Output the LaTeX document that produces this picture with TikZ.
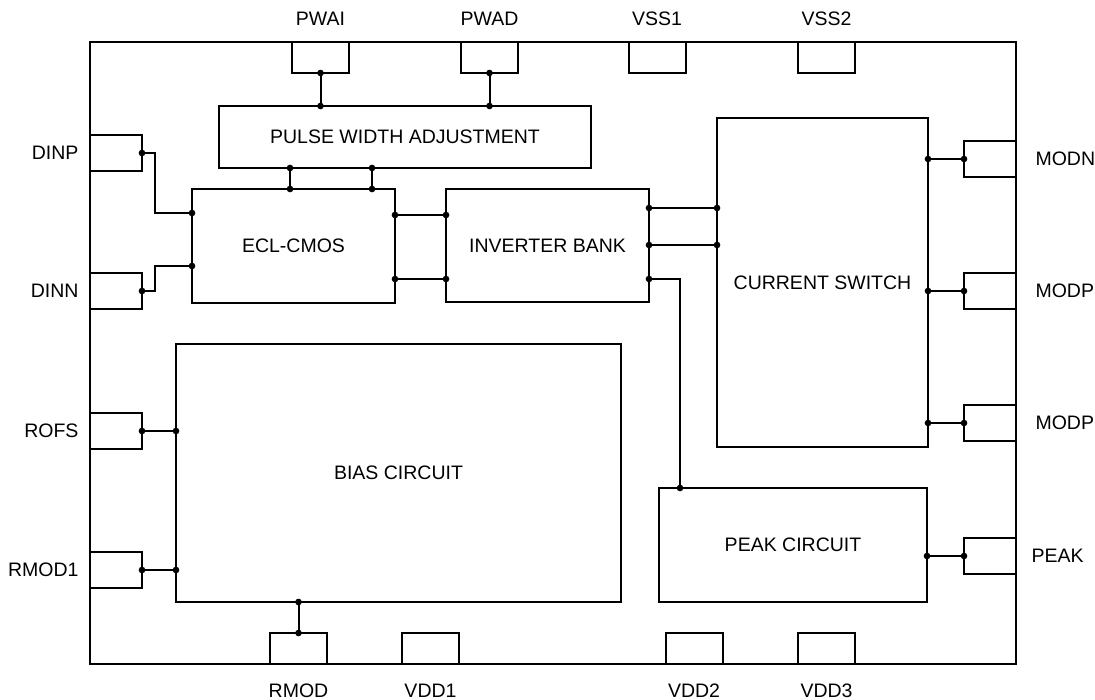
\documentclass[tikz,border=0pt]{standalone}
\usepackage{fontspec}
\setmainfont{Liberation Sans}
\usetikzlibrary{arrows.meta,positioning,calc}

\begin{document}
\begin{tikzpicture}[
  x=1pt, y=-1pt,
  line width=2pt,
  blk/.style={
    rectangle, draw, outer sep=0pt, inner sep=0pt,
    font=\fontsize{19.5}{23}\selectfont,
    align=center
  },
  padh/.style={rectangle, draw, outer sep=0pt, minimum width=57pt, minimum height=31pt},
  padv/.style={rectangle, draw, outer sep=0pt, minimum width=52pt, minimum height=36pt},
  pin/.style={font=\fontsize{19.5}{23}\selectfont, inner sep=0pt},
  conn/.style={{Circle[length=6.5pt]}-{Circle[length=6.5pt]}, shorten <=-3.25pt, shorten >=-3.25pt}
]
\useasboundingbox (0,0) rectangle (1095,700);

\node[draw, outer sep=0pt, minimum width=926pt, minimum height=622pt] (chip) at (553,353) {};

\node[blk, minimum width=372pt, minimum height=62pt]  (pwa)  at (405,137)     {PULSE WIDTH ADJUSTMENT};
\node[blk, minimum width=203pt, minimum height=114pt] (ecl)  at (293.5,246)   {ECL-CMOS};
\node[blk, minimum width=203pt, minimum height=113pt] (inv)  at (547.5,245.5) {INVERTER BANK};
\node[blk, minimum width=211pt, minimum height=329pt] (cs)   at (822.5,282.5) {CURRENT SWITCH};
\node[blk, minimum width=445pt, minimum height=258pt] (bias) at (398.5,473)   {BIAS CIRCUIT};
\node[blk, minimum width=268pt, minimum height=114pt] (peak) at (793,545)     {PEAK CIRCUIT};

\node[padh] (pwai) at (320.5,57.5) {};
\node[padh] (pwad) at (489.5,57.5) {};
\node[padh] (vss1) at (657,57.5)   {};
\node[padh] (vss2) at (826.5,57.5) {};
\node[padh] (rmod) at (298.5,648.5) {};
\node[padh] (vdd1) at (430.5,648.5) {};
\node[padh] (vdd2) at (694,648.5)   {};
\node[padh] (vdd3) at (826.5,648.5) {};
\node[padv] (dinp)  at (116,153) {};
\node[padv] (dinn)  at (116,291) {};
\node[padv] (rofs)  at (116,431) {};
\node[padv] (rmodi) at (116,570) {};
\node[padv] (modn)  at (990,159) {};
\node[padv] (modpa) at (990,291) {};
\node[padv] (modpb) at (990,423) {};
\node[padv] (peakp) at (990,556) {};

\node[pin, above=15pt of pwai] (pwai-l) {PWAI};
\node[pin, above=15pt of pwad] (pwad-l) {PWAD};
\node[pin, above=15pt of vss1] (vss1-l) {VSS1};
\node[pin, above=15pt of vss2] (vss2-l) {VSS2};
\node[pin, below=19pt of rmod] (rmod-l) {RMOD};
\node[pin, below=19pt of vdd1] (vdd1-l) {VDD1};
\node[pin, below=19pt of vdd2] (vdd2-l) {VDD2};
\node[pin, below=19pt of vdd3] (vdd3-l) {VDD3};
\node[pin, left=10.5pt of dinp]  (dinp-l)  {DINP};
\node[pin, left=10.5pt of dinn]  (dinn-l)  {DINN};
\node[pin, left=10.5pt of rofs]  (rofs-l)  {ROFS};
\node[pin, left=10.5pt of rmodi] (rmodi-l) {RMOD1};
\node[pin, right=18.5pt of modn]  (modn-l)  {MODN};
\node[pin, right=18.5pt of modpa] (modpa-l) {MODP};
\node[pin, right=18.5pt of modpb] (modpb-l) {MODP};
\node[pin, right=14.5pt of peakp] (peakp-l) {PEAK};

\coordinate (ecl-t1) at ($(ecl.north west)+(98,0)$);
\coordinate (ecl-t2) at ($(ecl.north west)+(180,0)$);
\coordinate (ecl-i1) at ($(ecl.north west)+(0,24)$);
\coordinate (ecl-i2) at ($(ecl.north west)+(0,77)$);
\coordinate (ecl-o1) at ($(ecl.north east)+(0,26)$);
\coordinate (ecl-o2) at ($(ecl.north east)+(0,90)$);
\coordinate (inv-o1) at ($(inv.north east)+(0,19)$);
\coordinate (inv-o2) at ($(inv.north east)+(0,56)$);
\coordinate (inv-o3) at ($(inv.north east)+(0,90)$);
\coordinate (peak-i) at ($(peak.north west)+(21,0)$);

\draw[conn] (pwai.south) -- (pwai.south |- pwa.north);
\draw[conn] (pwad.south) -- (pwad.south |- pwa.north);
\draw[conn] (ecl-t1 |- pwa.south) -- (ecl-t1);
\draw[conn] (ecl-t2 |- pwa.south) -- (ecl-t2);
\draw[conn] (dinp.east) -- ++(13,0) |- (ecl-i1);
\draw[conn] (dinn.east) -- ++(13,0) |- (ecl-i2);
\draw[conn] (ecl-o1) -- (ecl-o1 -| inv.west);
\draw[conn] (ecl-o2) -- (ecl-o2 -| inv.west);
\draw[conn] (inv-o1) -- (inv-o1 -| cs.west);
\draw[conn] (inv-o2) -- (inv-o2 -| cs.west);
\draw[conn] (inv-o3) -| (peak-i);
\draw[conn] (modn.west -| cs.east) -- (modn.west);
\draw[conn] (modpa.west -| cs.east) -- (modpa.west);
\draw[conn] (modpb.west -| cs.east) -- (modpb.west);
\draw[conn] (peakp.west -| peak.east) -- (peakp.west);
\draw[conn] (rofs.east) -- (rofs.east -| bias.west);
\draw[conn] (rmodi.east) -- (rmodi.east -| bias.west);
\draw[conn] (rmod.north |- bias.south) -- (rmod.north);
\end{tikzpicture}
\end{document}
